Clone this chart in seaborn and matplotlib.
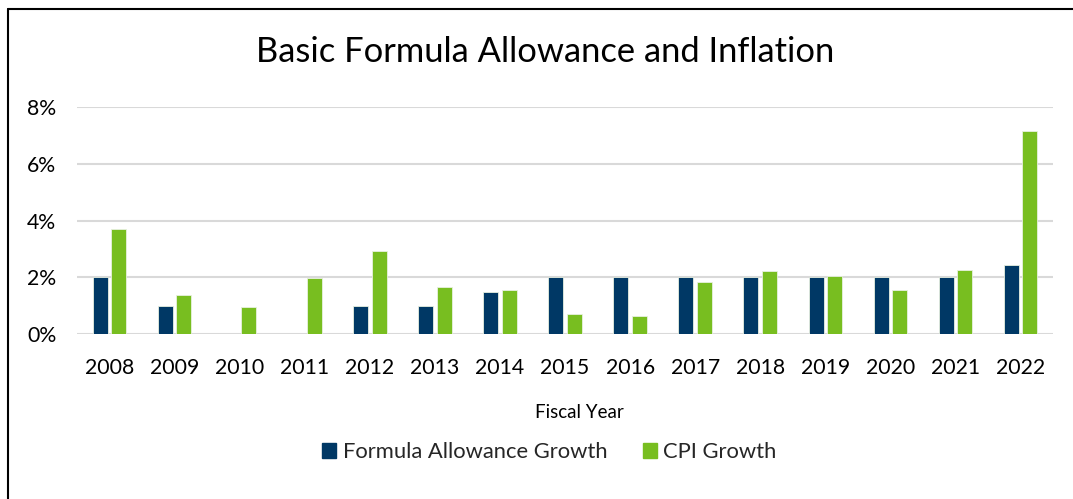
import matplotlib
matplotlib.use("Agg")
import matplotlib.pyplot as plt
from matplotlib.patches import Rectangle
from matplotlib.lines import Line2D
from matplotlib.ticker import PercentFormatter
import seaborn as sns
import pandas as pd

years = ["2008", "2009", "2010", "2011", "2012", "2013", "2014", "2015",
         "2016", "2017", "2018", "2019", "2020", "2021", "2022"]
formula_growth = [2.0, 1.0, 0.0, 0.0, 1.0, 1.0, 1.5, 2.0,
                  2.0, 2.0, 2.0, 2.0, 2.0, 2.0, 2.44]
cpi_growth = [3.70, 1.38, 0.97, 1.98, 2.93, 1.68, 1.55, 0.70,
              0.66, 1.84, 2.23, 2.06, 1.56, 2.28, 7.16]
series_names = ["Formula Allowance Growth", "CPI Growth"]
colors = ["#003865", "#78BE20"]

df = pd.DataFrame({
    "year": years * 2,
    "value": [v / 100 for v in formula_growth] + [v / 100 for v in cpi_growth],
    "series": [series_names[0]] * len(years) + [series_names[1]] * len(years),
})

sns.set_theme(style="white")
plt.rcParams["font.family"] = ["Lato", "DejaVu Sans"]

fig = plt.figure(figsize=(10.73, 4.99), dpi=100)
ax = fig.add_axes([0.0718, 0.330, 0.9096, 0.4556])

sns.barplot(data=df, x="year", y="value", hue="series", palette=colors,
            saturation=1, width=0.57, gap=0.19, ax=ax, edgecolor="#e8f0e0",
            linewidth=0.6, legend=False)

ax.set_ylim(0, 0.08)
ax.set_xlim(-0.5, len(years) - 0.5)
ax.set_yticks([0, 0.02, 0.04, 0.06, 0.08])
ax.yaxis.set_major_formatter(PercentFormatter(xmax=1, decimals=0))
ax.grid(axis="y", color="#d9d9d9", linewidth=1.5)
ax.set_axisbelow(True)
for s in ax.spines.values():
    s.set_visible(False)
ax.tick_params(axis="both", length=0, labelsize=15.3, colors="#000000")
ax.tick_params(axis="x", pad=17)
ax.tick_params(axis="y", pad=15)
ax.set_xlabel("")
ax.set_ylabel("")

fig.text(0.508, 0.895, "Basic Formula Allowance and Inflation",
         ha="center", va="center", fontsize=24.8, color="#000000")
fig.text(0.540, 0.174, "Fiscal Year", ha="center", va="center",
         fontsize=13.5, color="#000000")

handles = [Rectangle((0, 0), 1, 1, color=c) for c in colors]
fig.legend(handles, series_names, loc="center", bbox_to_anchor=(0.512, 0.094),
           ncol=2, frameon=False, fontsize=15.8, handlelength=0.65,
           handleheight=0.65, handletextpad=0.3, columnspacing=1.6)

# chart frame: top and left edges only
fig.add_artist(Line2D([7.5 / 1073, 1.0], [1 - 8.5 / 499, 1 - 8.5 / 499],
                      transform=fig.transFigure, color="#000000", linewidth=1.5))
fig.add_artist(Line2D([7.5 / 1073, 7.5 / 1073], [0.0, 1 - 8.5 / 499],
                      transform=fig.transFigure, color="#000000", linewidth=1.5))

fig.savefig("out.png", dpi=100)
